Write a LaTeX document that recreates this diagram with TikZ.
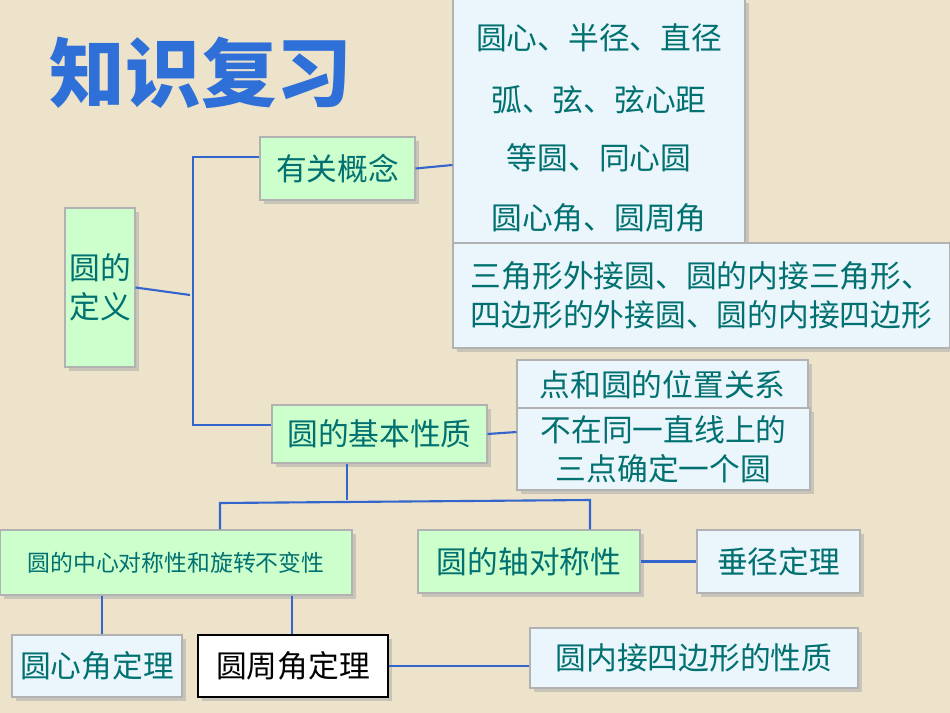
\documentclass[tikz,border=0pt]{standalone}
\usepackage{fontspec}
\setmainfont{Noto Sans CJK SC}
\newfontfamily\cjkb{Noto Sans CJK SC Black}
\usetikzlibrary{shadows}
\definecolor{bg}{HTML}{EDE3CB}
\definecolor{gbox}{HTML}{CCFFCC}
\definecolor{bbox}{HTML}{EAF6FB}
\definecolor{tx}{HTML}{007070}
\definecolor{ln}{HTML}{3366CC}
\definecolor{ttl}{HTML}{2E6FD8}
\tikzset{
 bx/.style={draw=gray!60,line width=0.6pt,fill=#1,text=tx,font=\fontsize{17.5pt}{22pt}\selectfont,align=center,inner sep=0pt,drop shadow={shadow xshift=2pt,shadow yshift=-2pt,fill=gray!70}},
 lt/.style={text=tx,font=\fontsize{17.5pt}{22pt}\selectfont},
 con/.style={draw=ln,line width=1.2pt}
}
\begin{document}
\begin{tikzpicture}[x=0.02cm,y=-0.02cm]
\fill[bg] (0,0) rectangle (950,713);
\useasboundingbox (0,0) rectangle (950,713);
\node[font=\cjkb\fontsize{43pt}{43pt}\selectfont,text=ttl] (t) at (201,73) {知识复习};
% boxes
\node[bx=gbox,minimum width=155*0.02cm,minimum height=63*0.02cm] (gn) at (337.5,168.5) {有关概念};
\node[bx=bbox,minimum width=292*0.02cm,minimum height=246*0.02cm] (c1) at (599,122) {};
\node[lt] at (599,38) {圆心、半径、直径};
\node[lt] at (599,100) {弧、弦、弦心距};
\node[lt] at (599,158) {等圆、同心圆};
\node[lt] at (599,218) {圆心角、圆周角};
\node[bx=bbox,minimum width=497*0.02cm,minimum height=105*0.02cm,align=left] (c2) at (701.5,295.5) {三角形外接圆、圆的内接三角形、\\四边形的外接圆、圆的内接四边形};
\node[bx=gbox,minimum width=70*0.02cm,minimum height=159*0.02cm] (def) at (100,287.5) {圆的\\定义};
\node[bx=gbox,minimum width=215*0.02cm,minimum height=58*0.02cm] (jb) at (379.5,434) {圆的基本性质};
\node[bx=bbox,minimum width=291*0.02cm,minimum height=50*0.02cm] (dw) at (662.5,385) {点和圆的位置关系};
\node[bx=bbox,minimum width=293*0.02cm,minimum height=82*0.02cm] (sd) at (663.5,449) {不在同一直线上的\\三点确定一个圆};
\node[bx=gbox,minimum width=352*0.02cm,minimum height=65*0.02cm,font=\fontsize{13pt}{16pt}\selectfont] (zx) at (176,562.5) {圆的中心对称性和旋转不变性};
\node[bx=gbox,minimum width=222*0.02cm,minimum height=63*0.02cm] (zd) at (529,561.5) {圆的轴对称性};
\node[bx=bbox,minimum width=163*0.02cm,minimum height=63*0.02cm] (cj) at (778.5,561.5) {垂径定理};
\node[bx=bbox,minimum width=170*0.02cm,minimum height=62*0.02cm] (yx) at (97,666) {圆心角定理};
\node[bx=white,draw=black,line width=1.2pt,text=black,minimum width=190*0.02cm,minimum height=62*0.02cm] (yz) at (293,666) {圆周角定理};
\node[bx=bbox,minimum width=328*0.02cm,minimum height=60*0.02cm] (nj) at (694,658) {圆内接四边形的性质};
% connectors
\coordinate (b1) at (193,157);
\coordinate (b2) at (193,425);
\draw[con] (def.east) -- (190,295);
\draw[con] (gn.west |- 0,157) -- (b1) -- (b2) -- (jb.west |- 0,425);
\draw[con] (gn.east) -- (c1.west |- 0,165);
\draw[con] (jb.east) -- (sd.west |- 0,432);
\coordinate (h) at (347,500);
\draw[con] (jb.south -| h) -- (h);
\draw[con] (zx.north -| 220,0) -- (220,503) -- (590,500) -- (zd.north -| 590,0);
\draw[con] (zd.east) -- (cj.west);
\draw[con] (zx.south -| 102,0) -- (yx.north -| 102,0);
\draw[con] (zx.south -| 292,0) -- (yz.north -| 292,0);
\draw[con] (yz.east) -- (nj.west |- yz.east);
\end{tikzpicture}
\end{document}
